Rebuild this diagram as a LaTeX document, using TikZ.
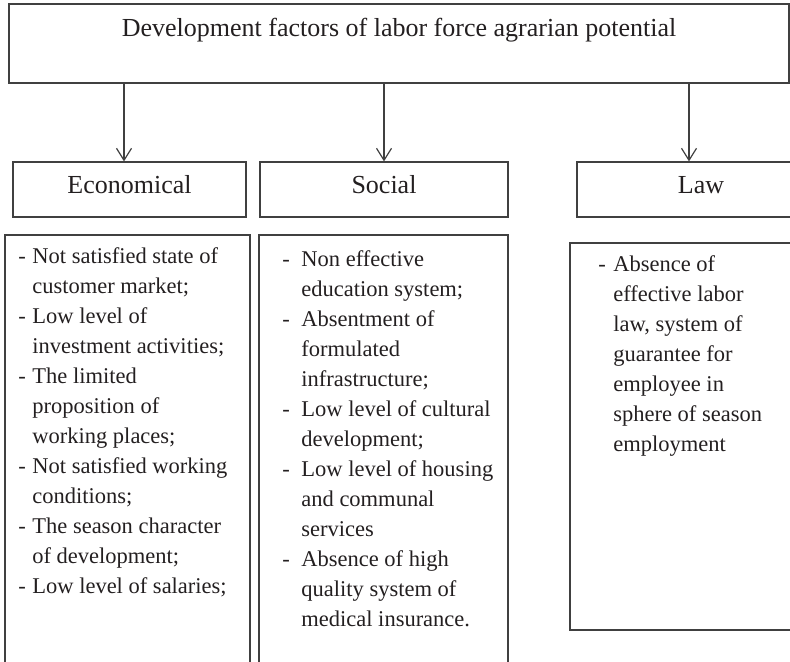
\documentclass[tikz,border=0pt]{standalone}
\usepackage{fontspec}
\setmainfont{Liberation Serif}
\usepackage{tikz}
\usetikzlibrary{arrows.meta,positioning}
\definecolor{fline}{RGB}{64,64,64}
\definecolor{ftext}{RGB}{35,31,32}
\newcommand{\fdash}[1]{\makebox[#1][l]{-}}
\newcommand{\fgap}[1]{\hspace*{#1}}

\begin{document}
\begin{tikzpicture}[x=0.5pt, y=-0.5pt,
  box/.style={draw=fline, line width=0.6pt, inner sep=0pt},
  head/.style={box, font=\fontsize{13pt}{15pt}\selectfont, text=ftext,
    text height=9pt, text depth=5pt, minimum height=27.5pt},
  list/.style={anchor=base west, inner sep=0pt, text=ftext,
    font=\fontsize{11.25pt}{15pt}\selectfont},
  arr/.style={draw=fline, line width=0.6pt, -{Straight Barb[length=6pt,width=7.5pt]}}]
\useasboundingbox (0,0) rectangle (790,661);
\clip (0,0) rectangle (790,661);
% Title
\node[box, minimum width=390pt, minimum height=39.5pt] (title) at (399,43.5) {};
\node[anchor=base, inner sep=0pt, text=ftext, font=\fontsize{13pt}{15pt}\selectfont]
  (titletxt) at (399,36) {Development factors of labor force agrarian potential};
% Factor groups
\node[head, minimum width=116.5pt] (econ) at (129.5,189.5) {Economical};
\node[head, minimum width=124pt] (social) at (384,189.5) {Social};
\node[head, minimum width=124pt] (law) at (701,189.5) {Law};
% Arrows
\coordinate (ea) at (124,0);
\coordinate (sa) at (384,0);
\coordinate (la) at (689,0);
\draw[arr] (title.south -| ea) -- (econ.north -| ea);
\draw[arr] (title.south -| sa) -- (social.north -| sa);
\draw[arr] (title.south -| la) -- (law.north -| la);
% Lists
\node[box, minimum width=122.5pt, minimum height=222.5pt] (econlist) at (127.5,457.5) {};
\node[box, minimum width=124.5pt, minimum height=222.5pt] (sociallist) at (383.5,457.5) {};
\node[box, minimum width=130pt, minimum height=193.5pt] (lawlist) at (700,436.5) {};
\node[list] (econtxt) at (18,263) {\begin{minipage}[t]{120pt}
\fdash{7pt}Not satisfied state of\\
\fgap{7pt}customer market;\\
\fdash{7pt}Low level of\\
\fgap{7pt}investment activities;\\
\fdash{7pt}The limited\\
\fgap{7pt}proposition of\\
\fgap{7pt}working places;\\
\fdash{7pt}Not satisfied working\\
\fgap{7pt}conditions;\\
\fdash{7pt}The season character\\
\fgap{7pt}of development;\\
\fdash{7pt}Low level of salaries;
\end{minipage}};
\node[list] (socialtxt) at (282,266) {\begin{minipage}[t]{120pt}
\fdash{9.5pt}Non effective\\
\fgap{9.5pt}education system;\\
\fdash{9.5pt}Absentment of\\
\fgap{9.5pt}formulated\\
\fgap{9.5pt}infrastructure;\\
\fdash{9.5pt}Low level of cultural\\
\fgap{9.5pt}development;\\
\fdash{9.5pt}Low level of housing\\
\fgap{9.5pt}and communal\\
\fgap{9.5pt}services\\
\fdash{9.5pt}Absence of high\\
\fgap{9.5pt}quality system of\\
\fgap{9.5pt}medical insurance.
\end{minipage}};
\node[list] (lawtxt) at (598,271) {\begin{minipage}[t]{100pt}
\fdash{7.5pt}Absence of\\
\fgap{7.5pt}effective labor\\
\fgap{7.5pt}law, system of\\
\fgap{7.5pt}guarantee for\\
\fgap{7.5pt}employee in\\
\fgap{7.5pt}sphere of season\\
\fgap{7.5pt}employment
\end{minipage}};
\end{tikzpicture}
\end{document}
